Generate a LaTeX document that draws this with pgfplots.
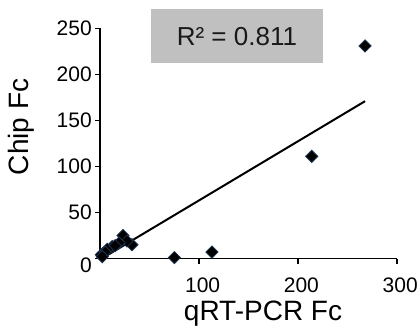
\documentclass[border=0pt]{standalone}
\usepackage{pgfplots}
\pgfplotsset{compat=1.18}
\usepackage{fontspec}
\setmainfont{Liberation Sans}
\definecolor{boxgray}{RGB}{192,192,192}
\definecolor{markedge}{RGB}{30,50,80}
\begin{document}
\begin{tikzpicture}
\useasboundingbox (-100.3pt,-70.5pt) rectangle (319.7pt,258.5pt);
\begin{axis}[
  scale only axis, width=296.4pt, height=230pt,
  xmin=0, xmax=300, ymin=0, ymax=250,
  axis lines=left, axis line style={-, line width=1.8pt},
  xtick={100,200,300}, ytick={50,100,150,200,250},
  extra y ticks={0}, extra y tick style={yticklabel style={yshift=-7pt}},
  tick align=outside, major tick length=5pt,
  tick style={line width=1.8pt, black},
  tick label style={font=\fontsize{21}{25}\selectfont},
  xticklabel style={xshift=3.5pt, yshift=-10.5pt},
  /pgf/number format/assume math mode=true,
  xlabel={qRT-PCR Fc}, ylabel={Chip Fc},
  label style={font=\fontsize{28}{33}\selectfont},
  xlabel style={at={(axis description cs:0.549,-0.2674)}, anchor=base},
  ylabel style={at={(axis description cs:-0.2439,0.572)}, anchor=base},
  clip=false,
]
\addplot[black, line width=2pt] coordinates {(2,0.3) (268,171)};
\addplot[only marks, mark=square*, mark size=4.3pt,
  mark options={rotate=45, fill=black, draw=markedge, line width=0.8pt}]
  coordinates {
  (268,231) (214,111) (113,7) (75,1) (23,25) (32,15) (27,19) (19,17)
  (12,13) (7,10) (3,6) (1,4) (5,7) (2,2) (15,14)
  };
\node[fill=boxgray, minimum width=172pt, minimum height=54pt, inner sep=0pt,
  font=\fontsize{26}{30}\selectfont, text=black!90] at (rel axis cs:0.461,0.967) {R² = 0.811};
\end{axis}
\end{tikzpicture}
\end{document}
